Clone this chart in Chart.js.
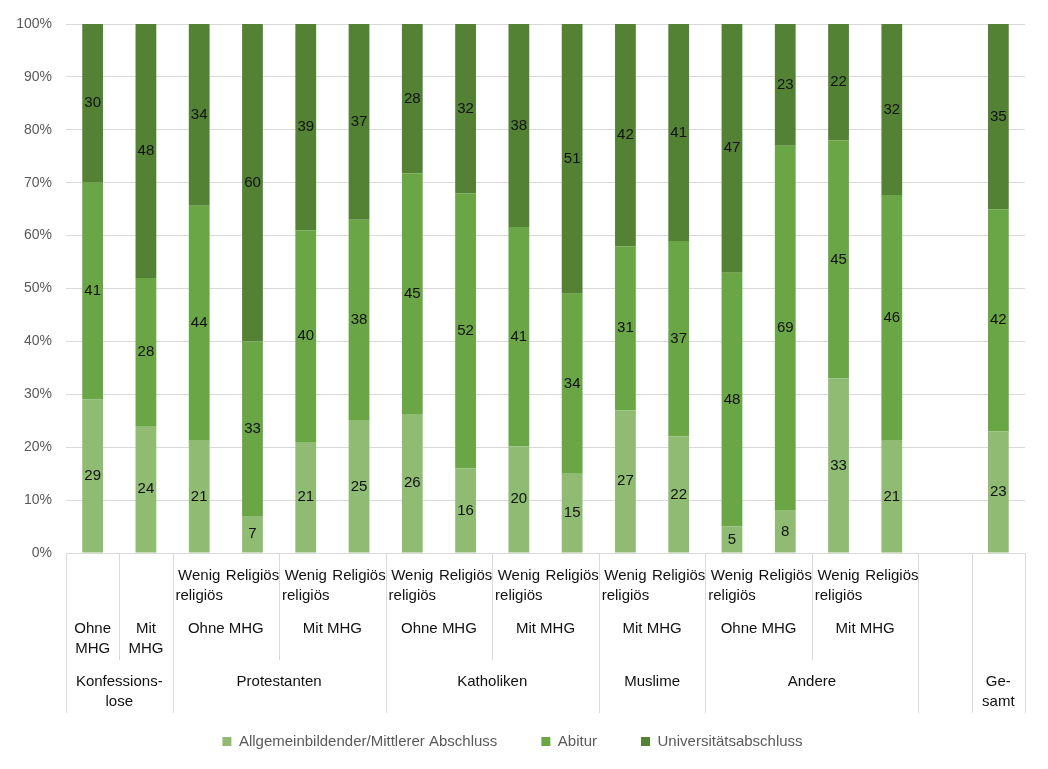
<!DOCTYPE html>
<html>
<head>
<meta charset="utf-8">
<script src="https://cdn.jsdelivr.net/npm/chart.js@4.4.1/dist/chart.umd.min.js"></script>
<style>
  html, body { margin: 0; padding: 0; background: #fff; }
  #wrap { width: 1048px; height: 769px; }
</style>
</head>
<body>
<div id="wrap"><canvas id="bildungChart" width="1048" height="769"></canvas></div>
<script>
// one slot per bar, slot 16 is the empty gap before "Gesamt"
const slots = ['K-Ohne', 'K-Mit', 'P-O-W', 'P-O-R', 'P-M-W', 'P-M-R', 'Ka-O-W', 'Ka-O-R', 'Ka-M-W', 'Ka-M-R',
    'M-M-W', 'M-M-R', 'A-O-W', 'A-O-R', 'A-M-W', 'A-M-R', '', 'Gesamt'];

const allgemein = [29, 24, 21, 7, 21, 25, 26, 16, 20, 15, 27, 22, 5, 8, 33, 21, null, 23];
const abitur = [41, 28, 44, 33, 40, 38, 45, 52, 41, 34, 31, 37, 48, 69, 45, 46, null, 42];
const uni = [30, 48, 34, 60, 39, 37, 28, 32, 38, 51, 42, 41, 47, 23, 22, 32, null, 35];

const seriesNames = ['Allgemeinbildender/Mittlerer Abschluss', 'Abitur', 'Universitätsabschluss'];

// axis label levels: [text lines, first slot, last slot]
const level1 = [
    [['Wenig', 'religiös'], 2, 2], [['Religiös'], 3, 3], [['Wenig', 'religiös'], 4, 4], [['Religiös'], 5, 5],
    [['Wenig', 'religiös'], 6, 6], [['Religiös'], 7, 7], [['Wenig', 'religiös'], 8, 8], [['Religiös'], 9, 9],
    [['Wenig', 'religiös'], 10, 10], [['Religiös'], 11, 11], [['Wenig', 'religiös'], 12, 12], [['Religiös'], 13, 13],
    [['Wenig', 'religiös'], 14, 14], [['Religiös'], 15, 15]
];
const level2 = [
    [['Ohne', 'MHG'], 0, 0], [['Mit', 'MHG'], 1, 1], [['Ohne MHG'], 2, 3], [['Mit MHG'], 4, 5],
    [['Ohne MHG'], 6, 7], [['Mit MHG'], 8, 9], [['Mit MHG'], 10, 11], [['Ohne MHG'], 12, 13], [['Mit MHG'], 14, 15]
];
const level3 = [
    [['Konfessions-', 'lose'], 0, 1], [['Protestanten'], 2, 5], [['Katholiken'], 6, 9], [['Muslime'], 10, 11],
    [['Andere'], 12, 15], [[''], 16, 16], [['Ge-', 'samt'], 17, 17]
];

const rawSeries = [allgemein, abitur, uni];
const totals = slots.map((_, i) => rawSeries.reduce((s, arr) => s + (arr[i] || 0), 0));
const toPercent = (arr) => arr.map((v, i) => v === null ? null : v / totals[i] * 100);

const colors = ['#8fbc72', '#6aa646', '#548235'];
const FONT = 'Liberation Sans, Arial, sans-serif';

const segmentLabels = {
    id: 'segmentLabels',
    afterDatasetsDraw(chart) {
        const ctx = chart.ctx;
        ctx.save();
        ctx.font = '15px ' + FONT;
        ctx.fillStyle = '#111';
        ctx.textAlign = 'center';
        ctx.textBaseline = 'middle';
        chart.data.datasets.forEach((ds, d) => {
            chart.getDatasetMeta(d).data.forEach((bar, i) => {
                const v = rawSeries[d][i];
                if (v === null) return;
                ctx.fillText(String(v), bar.x, (bar.y + bar.base) / 2);
            });
        });
        ctx.restore();
    }
};

const groupAxis = {
    id: 'groupAxis',
    afterDraw(chart) {
        const ctx = chart.ctx;
        const area = chart.chartArea;
        const w = (area.right - area.left) / slots.length;
        const edge = (i) => area.left + i * w;
        const top = area.bottom;

        ctx.save();
        ctx.strokeStyle = '#d9d9d9';
        ctx.lineWidth = 1;
        const line = (i, bottom) => {
            const px = Math.round(edge(i)) + 0.5;
            ctx.beginPath();
            ctx.moveTo(px, top);
            ctx.lineTo(px, bottom);
            ctx.stroke();
        };
        [0, 2, 6, 10, 12, 16, 17, 18].forEach(i => line(i, top + 160));
        [1, 4, 8, 14].forEach(i => line(i, top + 107));

        ctx.font = '15px ' + FONT;
        ctx.fillStyle = '#111';
        ctx.textAlign = 'center';
        ctx.textBaseline = 'middle';
        const drawLevel = (items, y0) => {
            items.forEach(([lines, a, b]) => {
                const cx = (edge(a) + edge(b + 1)) / 2;
                lines.forEach((t, k) => ctx.fillText(t, cx, y0 + k * 20));
            });
        };
        drawLevel(level1, top + 23);
        drawLevel(level2, top + 76);
        drawLevel(level3, top + 129);
        ctx.restore();
    }
};

new Chart(document.getElementById('bildungChart'), {
    type: 'bar',
    data: {
        labels: slots,
        datasets: seriesNames.map((name, d) => ({
            label: name,
            data: toPercent(rawSeries[d]),
            backgroundColor: colors[d],
            borderWidth: 0,
            categoryPercentage: 1,
            barPercentage: 0.39
        }))
    },
    options: {
        responsive: false,
        animation: false,
        layout: { padding: { top: 24, right: 23, bottom: 10, left: 0 } },
        scales: {
            x: {
                stacked: true,
                grid: { display: false },
                border: { display: false },
                ticks: { display: false },
                afterFit: (scale) => { scale.height = 137; }
            },
            y: {
                stacked: true,
                min: 0,
                max: 100,
                grid: { color: '#d9d9d9', drawTicks: false },
                border: { display: false },
                ticks: {
                    stepSize: 10,
                    padding: 14,
                    color: '#595959',
                    font: { family: FONT, size: 14 },
                    callback: (v) => v + '%'
                },
                afterFit: (scale) => { scale.width = 66; }
            }
        },
        plugins: {
            legend: {
                position: 'bottom',
                labels: {
                    boxWidth: 9,
                    boxHeight: 9,
                    padding: 44,
                    color: '#595959',
                    font: { family: FONT, size: 15 }
                }
            },
            tooltip: { enabled: false }
        }
    },
    plugins: [segmentLabels, groupAxis]
});
</script>
</body>
</html>
